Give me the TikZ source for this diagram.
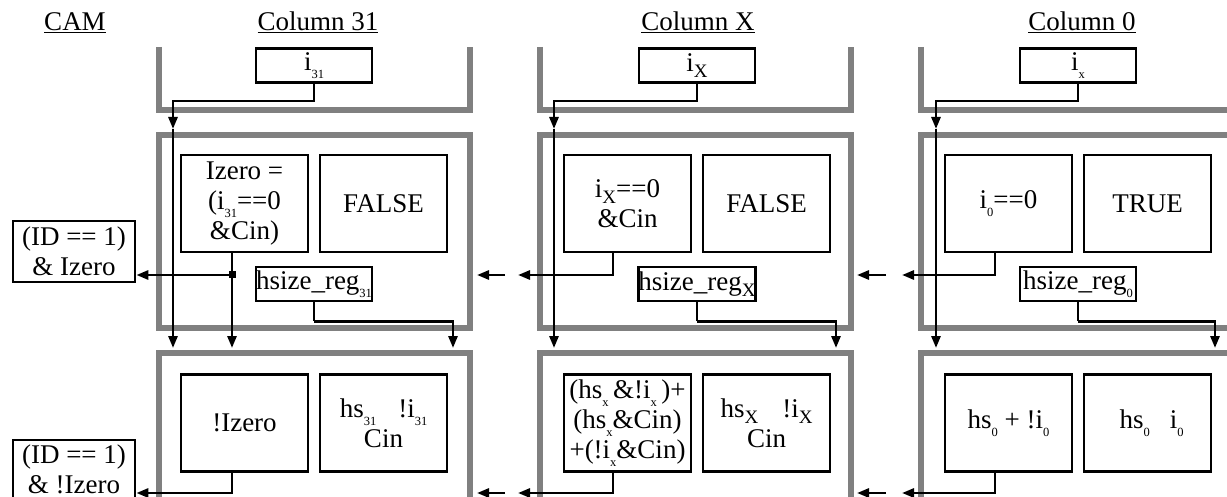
\documentclass[tikz,border=0pt]{standalone}
\usepackage{fontspec}
\setmainfont{Liberation Serif}
\usetikzlibrary{arrows.meta}
\definecolor{framegray}{RGB}{128,128,128}
\newcommand\sbs[1]{\raisebox{-0.3em}{\fontsize{12.5}{12.5}\selectfont #1}}
\newcommand\sbX[1]{\raisebox{-0.24em}{\fontsize{19}{19}\selectfont #1}}
\begin{document}
\begin{tikzpicture}[x=1pt,y=-1pt,font=\fontsize{27}{30}\selectfont,
  frame/.style={draw=framegray,line width=5.5pt},
  bx/.style={draw,line width=2.7pt,inner sep=0pt,align=center},
  small/.style={bx,minimum width=116pt,minimum height=34pt},
  big/.style={bx,minimum width=127pt,minimum height=97pt},
  cam/.style={bx,minimum width=122pt,minimum height=61pt},
  plain/.style={inner sep=0pt,align=center},
  wire/.style={line width=2.7pt},
  arr/.style={wire,-{Triangle[length=12pt,width=9pt]}},
  title/.style={anchor=base,inner sep=0pt}]
\useasboundingbox (0,0) rectangle (1227,497);
\clip (0,0) rectangle (1227,497);
% frames
\foreach \dx in {0,381}{
  \draw[frame] (159+\dx,47) -- (159+\dx,110) -- (470+\dx,110) -- (470+\dx,47);
  \draw[frame] (159+\dx,135) rectangle (470+\dx,328);
  \draw[frame] (159+\dx,520) -- (159+\dx,353) -- (470+\dx,353) -- (470+\dx,520);
}
\draw[frame] (921,47) -- (921,110) -- (1250,110);
\draw[frame] (1250,135) -- (921,135) -- (921,328) -- (1250,328);
\draw[frame] (921,520) -- (921,353) -- (1250,353);
% titles
\node[title] (tcam) at (75,31) {\underline{CAM}};
\node[title] (t31) at (318,31) {\underline{Column 31}};
\node[title] (tX) at (698,31) {\underline{Column X}};
\node[title] (t0) at (1082,31) {\underline{Column 0}};
% CAM boxes
\node[cam] (cam1) at (74,251.5) {(ID == 1)\\\& Izero};
\node[cam,minimum height=80pt] (cam2) at (74,480) {};
\node[plain] (cam2t) at (74,469) {(ID == 1)\\\& !Izero};
% column 31
\node[small] (i31) at (314,65.5) {i\sbs{31}};
\node[big] (iz31) at (244.5,203.5) {Izero =\\(i\sbs{31}==0\\\&Cin)};
\node[big] (f31) at (383.5,203.5) {FALSE};
\node[small] (hr31) at (314,284) {hsize\_reg\sbs{31}};
\node[big] (nz31) at (244.5,423) {!Izero};
\node[big] (hs31) at (383.5,423) {hs\sbs{31}\hspace{22pt}!i\sbs{31}\\Cin};
% column X
\node[small] (iX) at (697,65.5) {i\sbX{X}};
\node[big] (izX) at (627.5,203.5) {i\sbX{X}==0\\\&Cin};
\node[big] (fX) at (766.5,203.5) {FALSE};
\node[small] (hrX) at (697,284) {hsize\_reg\sbX{X}};
\node[big] (nzX) at (627.5,423) {(hs\sbs{x}\,\&!i\sbs{x}\,)+\\(hs\sbs{x}\&Cin)\\+(!i\sbs{x}\&Cin)};
\node[big] (hsX) at (766.5,423) {hs\sbX{X}\hspace{24pt}!i\sbX{X}\\Cin};
% column 0
\node[small] (i0) at (1078,65.5) {i\sbs{x}};
\node[big] (iz0) at (1008.5,203.5) {i\sbs{0}==0};
\node[big] (f0) at (1147.5,203.5) {TRUE};
\node[small] (hr0) at (1078,284) {hsize\_reg\sbs{0}};
\node[big] (nz0) at (1008.5,423) {hs\sbs{0} + !i\sbs{0}};
\node[big] (hs0) at (1147.5,423) {\hspace{8pt}hs\sbs{0}\hspace{20pt}i\sbs{0}};
% coordinates
\coordinate (b31) at (173,101); \coordinate (v31a) at (173,129); \coordinate (v31b) at (173,348);
\coordinate (j31) at (232,275); \coordinate (d31) at (232,348); \coordinate (k31) at (232,493);
\coordinate (h31) at (453,348);
\coordinate (bX) at (554,101); \coordinate (vXa) at (554,129); \coordinate (vXb) at (554,348);
\coordinate (jX) at (613,275); \coordinate (tXa) at (518,275); \coordinate (kX) at (613,493); \coordinate (tXb) at (518,493);
\coordinate (hX) at (836,348);
\coordinate (sa1) at (505,275); \coordinate (sa2) at (477,275);
\coordinate (sb1) at (505,493); \coordinate (sb2) at (477,493);
\coordinate (b0) at (936,101); \coordinate (v0a) at (936,129); \coordinate (v0b) at (936,348);
\coordinate (j0) at (995,275); \coordinate (t0a) at (902,275); \coordinate (k0) at (995,493); \coordinate (t0b) at (902,493);
\coordinate (h0) at (1215,348);
\coordinate (sc1) at (886,275); \coordinate (sc2) at (857,275);
\coordinate (sd1) at (886,493); \coordinate (sd2) at (857,493);
% wires column 31
\draw[arr] (i31.south) |- (b31) -- (v31a);
\draw[arr] (v31a) -- (v31b);
\draw[arr] (iz31.south -| j31) -- (d31);
\draw[arr] (j31) -- (cam1.east |- j31);
\node[fill,minimum size=7pt,inner sep=0pt] (dot31) at (j31) {};
\draw[wire] (hr31.south) -- ++(0,19) coordinate (e31);
\draw[arr] (e31) -| (h31);
\draw[arr] (nz31.south -| k31) -- (k31) -- (cam2.east |- k31);
% wires column X
\draw[arr] (iX.south) |- (bX) -- (vXa);
\draw[arr] (vXa) -- (vXb);
\draw[arr] (izX.south -| jX) |- (tXa);
\draw[arr] (nzX.south -| kX) |- (tXb);
\draw[wire] (hrX.south) -- ++(0,19) coordinate (eX);
\draw[arr] (eX) -| (hX);
\draw[arr] (sa1) -- (sa2);
\draw[arr] (sb1) -- (sb2);
% wires column 0
\draw[arr] (i0.south) |- (b0) -- (v0a);
\draw[arr] (v0a) -- (v0b);
\draw[arr] (iz0.south -| j0) |- (t0a);
\draw[arr] (nz0.south -| k0) |- (t0b);
\draw[wire] (hr0.south) -- ++(0,19) coordinate (e0);
\draw[arr] (e0) -| (h0);
\draw[arr] (sc1) -- (sc2);
\draw[arr] (sd1) -- (sd2);
\end{tikzpicture}
\end{document}
